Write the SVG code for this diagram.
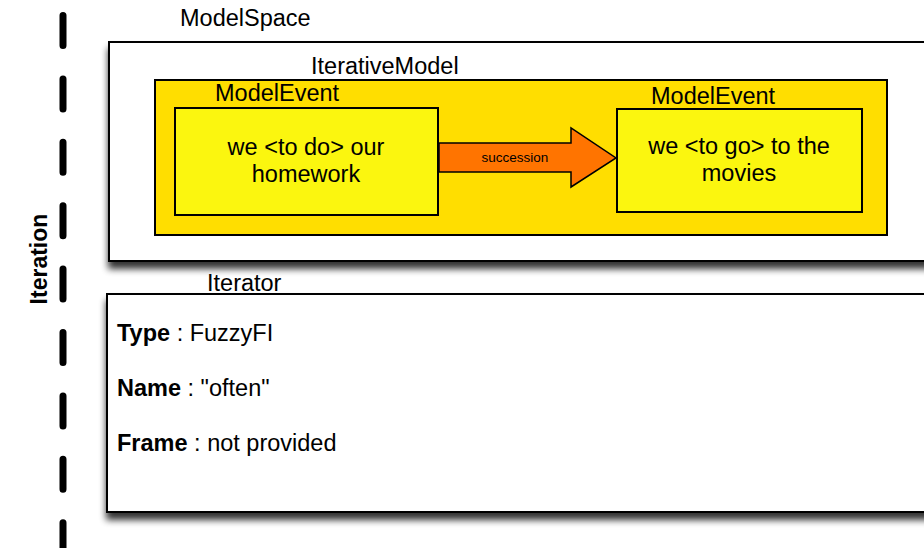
<svg xmlns="http://www.w3.org/2000/svg" width="924" height="548" viewBox="0 0 924 548">
  <defs>
    <filter id="shadow" x="-10%" y="-10%" width="130%" height="130%">
      <feGaussianBlur in="SourceAlpha" stdDeviation="3.5"/>
      <feOffset dx="0" dy="7" result="b"/>
      <feComponentTransfer><feFuncA type="linear" slope="0.8"/></feComponentTransfer>
      <feMerge><feMergeNode/><feMergeNode in="SourceGraphic"/></feMerge>
    </filter>
    <style>
      text { font-family: "Liberation Sans", Arial, sans-serif; fill: #000; }
      .lbl { font-size: 23.5px; }
      .body { font-size: 23.5px; text-anchor: middle; }
      .field { font-size: 23.5px; }
      .outer { fill: #fff; stroke: #000; stroke-width: 2; }
      .model { fill: #FFDE00; stroke: #000; stroke-width: 2; }
      .event { fill: #FBF60F; stroke: #000; stroke-width: 2; }
      .arrow { fill: #FF7400; stroke: #000; stroke-width: 1.5; stroke-linejoin: miter; }
    </style>
  </defs>
  <rect width="924" height="548" fill="#fff"/>

  <g id="iteration-lifeline">
    <line x1="63" y1="15.5" x2="63" y2="548" stroke="#000" stroke-width="7" stroke-linecap="round" stroke-dasharray="30 33.4"/>
    <text x="47" y="259" transform="rotate(-90 47 259)" text-anchor="middle" font-weight="bold" font-size="23">Iteration</text>
  </g>

  <g id="ModelSpace">
    <rect class="outer" x="109" y="42" width="830" height="219" filter="url(#shadow)"/>
    <text class="lbl" x="180" y="26">ModelSpace</text>
  </g>

  <g id="IterativeModel">
    <rect class="model" x="155" y="80" width="732" height="155"/>
    <text class="lbl" x="311" y="74">IterativeModel</text>
  </g>

  <g id="ModelEvent1">
    <rect class="event" x="175" y="108" width="263" height="107"/>
    <text class="lbl" x="215" y="101">ModelEvent</text>
    <text class="body" x="306" y="155">we &lt;to do&gt; our</text>
    <text class="body" x="306" y="182">homework</text>
  </g>

  <g id="ModelEvent2">
    <rect class="event" x="617" y="109" width="245" height="103"/>
    <text class="lbl" x="651" y="104">ModelEvent</text>
    <text class="body" x="739" y="154">we &lt;to go&gt; to the</text>
    <text class="body" x="739" y="181">movies</text>
  </g>

  <g id="connectors">
    <polygon class="arrow" points="439,143 571,143 571,128 616,158 571,187 571,172 439,172"/>
    <text x="515" y="161.5" font-size="13.5" text-anchor="middle">succession</text>
  </g>

  <g id="Iterator">
    <rect class="outer" x="107" y="294" width="830" height="218" filter="url(#shadow)"/>
    <text class="lbl" x="207" y="291">Iterator</text>
    <text class="field" x="117" y="341"><tspan font-weight="bold">Type</tspan> : FuzzyFI</text>
    <text class="field" x="117" y="396"><tspan font-weight="bold">Name</tspan> : "often"</text>
    <text class="field" x="117" y="451"><tspan font-weight="bold">Frame</tspan> : not provided</text>
  </g>
</svg>
